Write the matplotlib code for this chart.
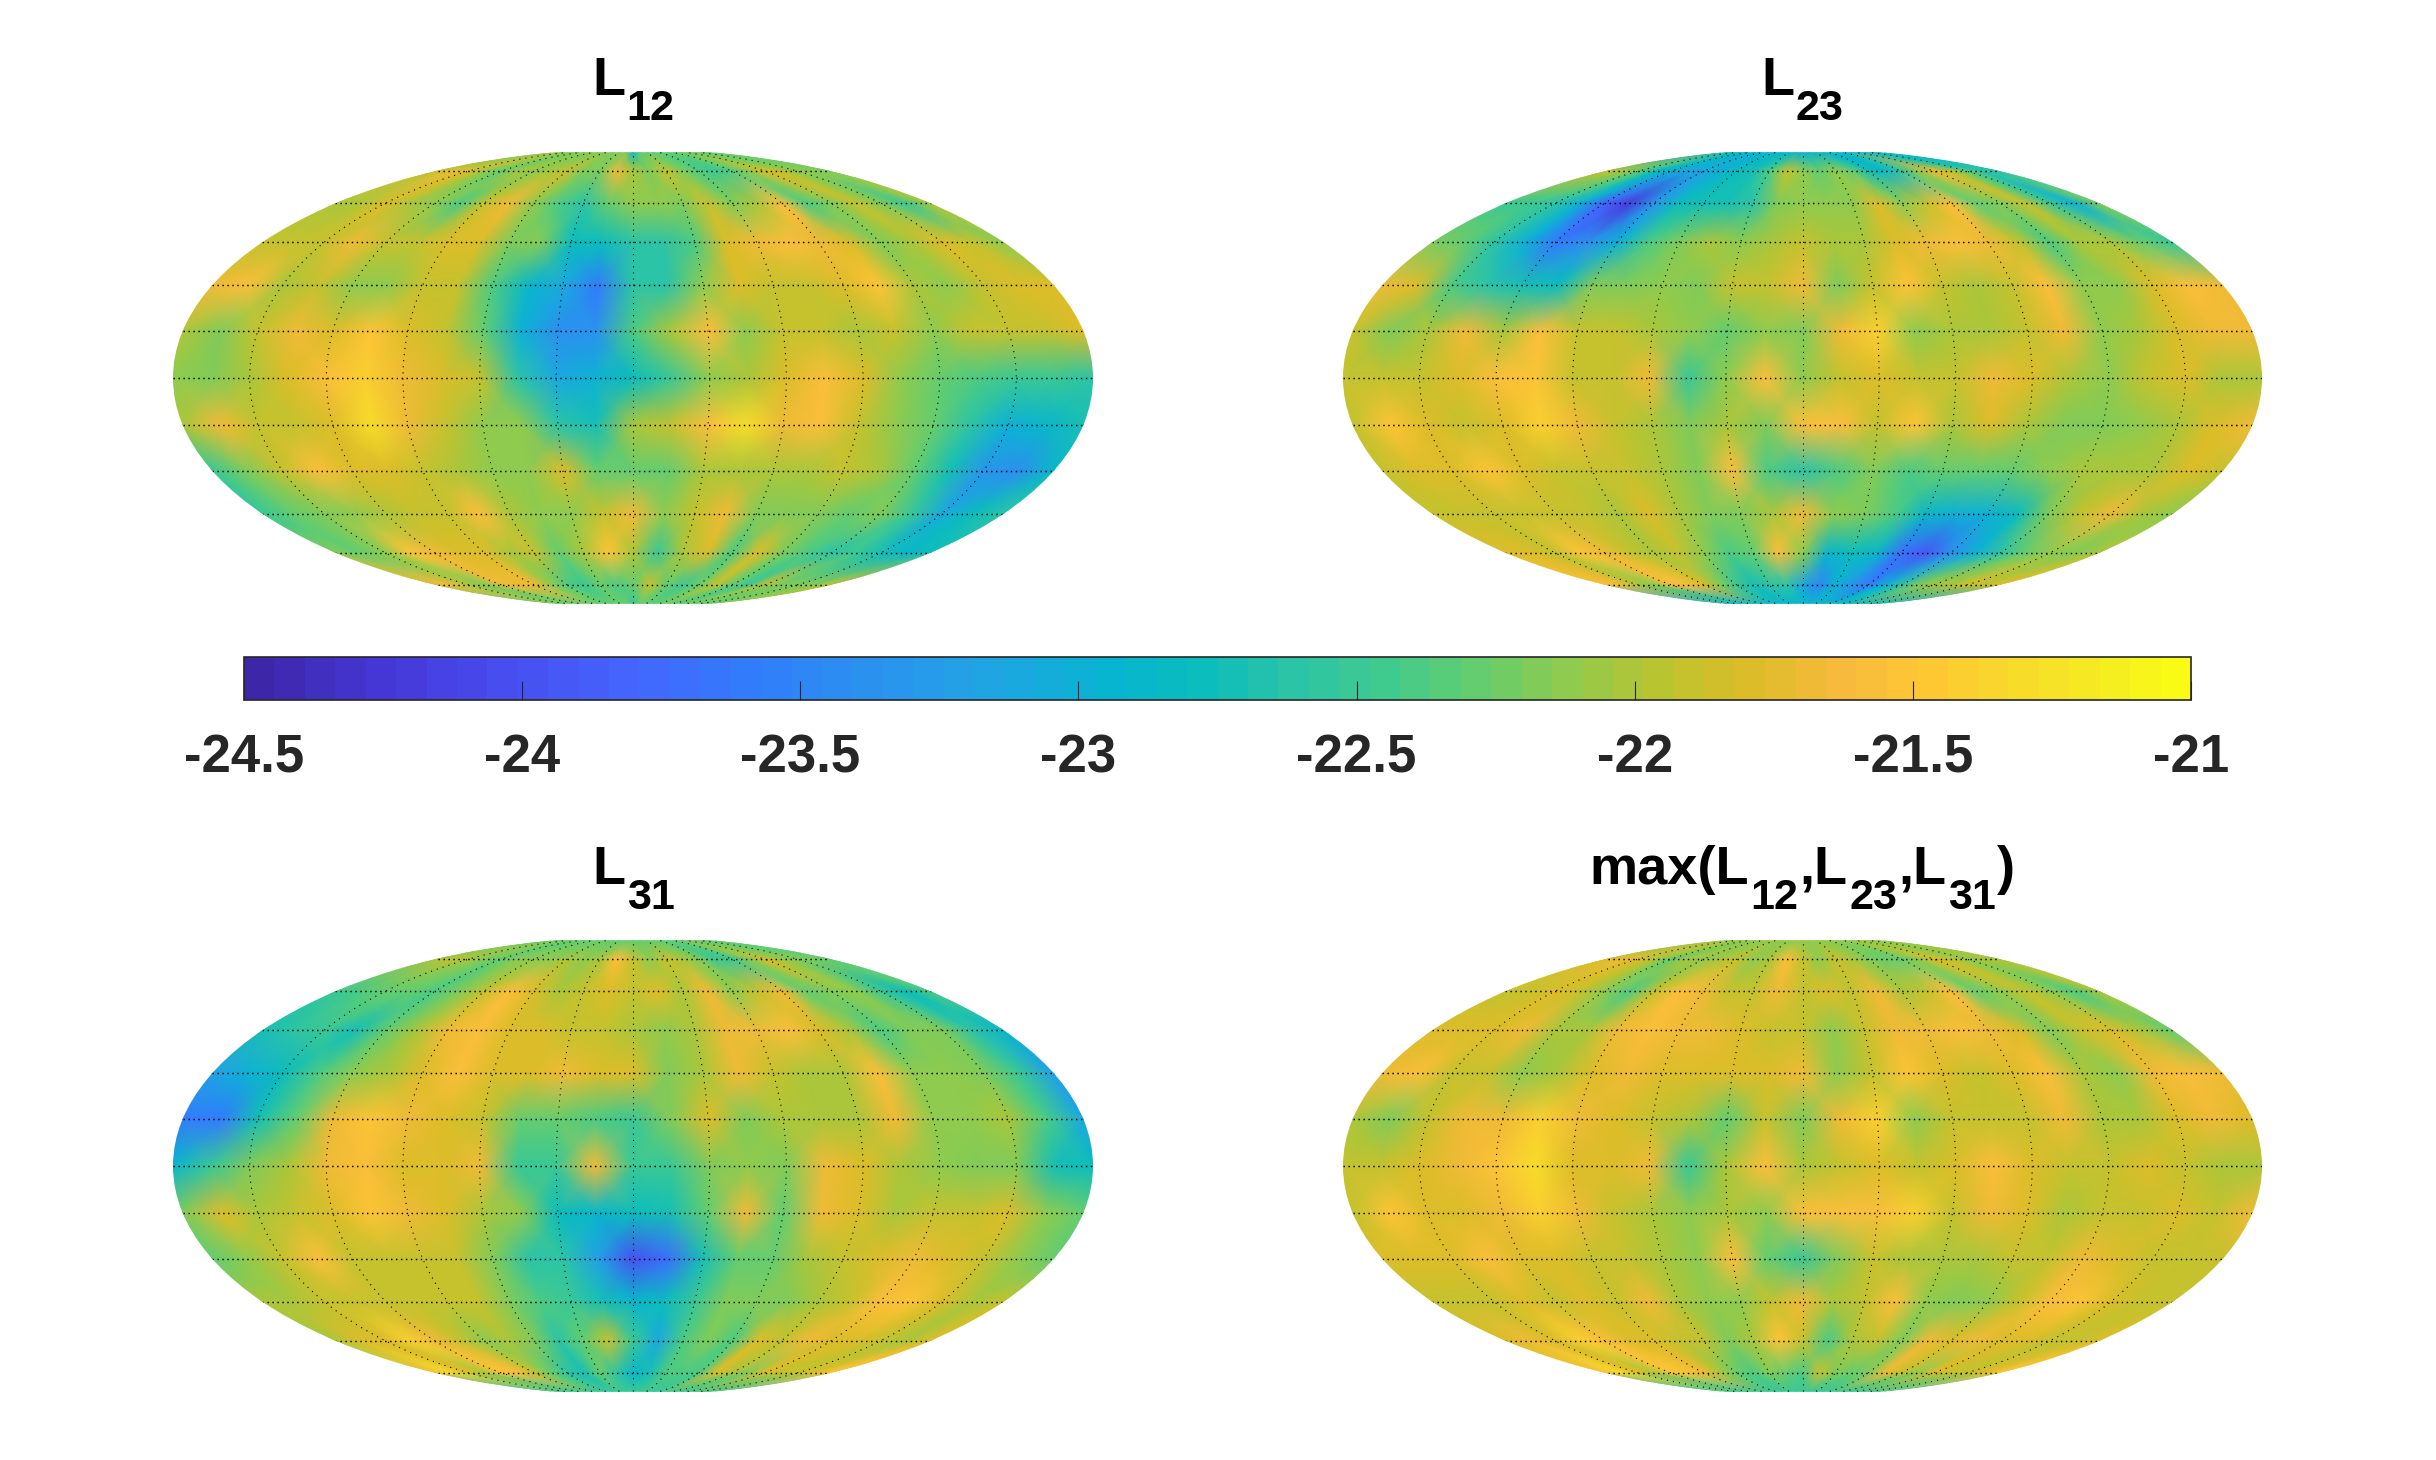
import numpy as np
import matplotlib
matplotlib.use('Agg')
import matplotlib.pyplot as plt
from matplotlib.cm import ScalarMappable
from matplotlib.colors import LinearSegmentedColormap, Normalize

W, H = 2436, 1460

plt.rcParams['font.family'] = ['Liberation Sans', 'DejaVu Sans']

# the map data stops just short of the poles, which gives the flat top and bottom
lats = [86, 75, 60, 45, 30, 15, 0, -15, -30, -45, -60, -75, -86]
lons = [-180, -165, -150, -135, -120, -105, -90, -75, -60, -45, -30, -15, 0,
        15, 30, 45, 60, 75, 90, 105, 120, 135, 150, 165, 180]

cbar_ticks = [-24.5, -24, -23.5, -23, -22.5, -22, -21.5, -21]
cbar_labels = ['-24.5', '-24', '-23.5', '-23', '-22.5', '-22', '-21.5', '-21']

L12 = [
    [-22.2]*12 + [-22.8] + [-22.3]*12,
    [-21.9,-21.7,-21.8,-22.1,-22.3,-22.0,-22.1,-22.0,-21.9,-22.2,-22.2,-21.7,-22.0,-22.2,-21.9,-22.2,-22.4,-22.5,-22.4,-22.1,-21.8,-21.9,-22.1,-22.1,-22.2],
    [-22.0,-22.0,-21.8,-22.0,-22.1,-22.4,-21.9,-21.7,-22.1,-22.4,-22.6,-22.3,-22.1,-22.1,-22.2,-21.9,-22.2,-22.0,-21.6,-22.4,-22.2,-21.9,-22.2,-22.5,-22.0],
    [-21.9,-21.9,-21.9,-21.7,-21.9,-21.9,-21.8,-21.8,-22.2,-22.2,-22.8,-22.8,-22.6,-22.6,-22.4,-21.8,-21.7,-21.6,-21.7,-21.8,-22.2,-22.0,-21.8,-21.9,-22.1],
    [-21.7,-21.6,-22.0,-21.9,-22.1,-22.1,-21.9,-21.9,-22.4,-22.9,-23.1,-23.6,-22.6,-22.6,-22.1,-21.8,-21.9,-21.9,-21.8,-21.5,-22.0,-22.1,-21.9,-21.8,-21.8],
    [-22.0,-22.2,-21.9,-21.7,-21.8,-21.5,-21.8,-21.9,-22.3,-23.0,-23.4,-23.4,-22.4,-22.0,-21.6,-22.1,-21.9,-21.9,-22.0,-21.9,-22.1,-21.9,-21.9,-21.9,-21.8],
    [-22.1,-22.2,-22.0,-21.8,-21.55,-21.4,-21.7,-21.8,-21.9,-22.6,-23.1,-23.0,-22.8,-22.5,-22.1,-22.0,-21.8,-21.6,-21.8,-22.1,-22.3,-22.4,-22.5,-22.5,-22.6],
    [-22.0,-21.7,-21.9,-21.9,-21.8,-21.3,-21.7,-21.9,-22.1,-22.1,-22.6,-22.7,-22.0,-21.9,-21.6,-21.3,-21.7,-21.6,-21.9,-22.1,-22.3,-22.6,-23.0,-22.9,-22.7],
    [-22.5,-22.2,-21.9,-21.6,-21.8,-21.8,-21.9,-22.0,-22.1,-22.1,-21.8,-22.3,-22.3,-22.3,-22.0,-22.0,-22.0,-22.0,-21.9,-22.0,-22.3,-22.7,-23.3,-23.4,-22.9],
    [-22.5,-22.3,-22.2,-22.1,-22.0,-21.9,-21.9,-21.6,-22.0,-22.1,-22.1,-21.9,-21.7,-22.1,-21.9,-21.7,-22.2,-22.2,-22.2,-22.3,-22.2,-22.5,-23.1,-22.8,-22.6],
    [-22.2,-22.3,-22.1,-21.5,-21.7,-21.8,-21.8,-22.0,-21.9,-22.3,-22.0,-21.5,-22.0,-22.5,-22.0,-21.8,-22.4,-21.8,-22.2,-22.4,-22.6,-22.5,-22.7,-22.9,-22.8],
    [-21.7,-21.7,-22.0,-22.2,-21.7,-21.7,-21.7,-22.1,-22.4,-22.5,-22.3,-22.4,-22.3,-21.9,-22.3,-22.5,-22.3,-21.9,-22.3,-22.5,-21.9,-22.2,-22.2,-22.1,-21.9],
    [-22.3]*12 + [-22.5] + [-22.3]*12,
]

L23 = [
    [-22.9]*12 + [-23.0] + [-22.9]*12,
    [-21.9,-22.0,-22.3,-22.8,-23.0,-23.1,-23.1,-23.0,-22.8,-22.7,-22.4,-21.9,-22.1,-22.3,-22.1,-22.3,-22.7,-22.9,-22.6,-22.1,-21.7,-21.9,-22.3,-22.6,-22.6],
    [-22.5,-22.5,-22.6,-23.0,-23.8,-24.2,-23.3,-22.8,-22.7,-22.7,-22.6,-22.2,-22.1,-22.1,-22.1,-21.8,-22.1,-21.9,-21.6,-22.3,-22.2,-21.9,-22.5,-23.0,-22.2],
    [-22.2,-22.3,-22.6,-23.0,-23.6,-23.4,-23.0,-22.4,-22.2,-22.0,-22.1,-22.0,-21.9,-22.0,-22.0,-21.8,-21.7,-21.6,-21.7,-21.9,-22.4,-22.0,-22.0,-22.3,-22.5],
    [-21.7,-21.8,-22.4,-22.6,-22.7,-22.8,-22.2,-22.2,-22.1,-22.2,-21.9,-21.9,-21.7,-22.2,-21.9,-21.5,-21.9,-22.0,-21.9,-21.6,-22.1,-22.1,-21.8,-21.6,-21.7],
    [-21.9,-22.2,-22.0,-21.7,-22.0,-21.6,-21.9,-21.9,-22.0,-22.1,-22.3,-22.1,-22.2,-21.7,-21.4,-22.1,-22.0,-22.0,-21.9,-21.7,-22.1,-22.0,-21.8,-21.7,-21.7],
    [-21.9,-21.9,-21.9,-21.8,-21.6,-21.5,-21.9,-21.9,-21.7,-22.5,-22.1,-21.6,-22.1,-21.9,-21.8,-21.9,-21.9,-21.7,-21.8,-22.0,-22.1,-21.9,-21.8,-22.0,-22.0],
    [-21.9,-21.5,-21.8,-21.9,-21.8,-21.4,-21.7,-21.9,-22.0,-22.2,-22.0,-22.2,-21.6,-21.6,-21.9,-21.5,-22.0,-21.8,-22.0,-22.2,-22.2,-22.1,-22.0,-21.8,-21.7],
    [-21.9,-21.8,-21.8,-21.5,-21.8,-21.9,-21.9,-21.9,-22.0,-22.2,-21.6,-22.4,-22.6,-22.4,-22.2,-22.4,-22.3,-22.3,-22.3,-22.1,-22.0,-22.0,-22.0,-21.8,-21.9],
    [-21.9,-21.9,-21.9,-21.9,-21.9,-21.9,-22.0,-21.8,-22.0,-22.2,-22.2,-22.0,-21.7,-22.1,-22.2,-22.4,-22.9,-23.0,-23.0,-22.8,-22.2,-21.9,-21.7,-22.0,-22.1],
    [-21.8,-21.8,-21.9,-21.5,-21.7,-21.9,-22.0,-21.9,-22.1,-22.4,-22.3,-21.6,-22.1,-22.9,-22.8,-22.9,-23.7,-23.9,-23.4,-23.0,-22.6,-22.3,-22.1,-22.2,-22.0],
    [-21.6,-21.7,-22.0,-22.1,-21.6,-21.6,-21.8,-22.2,-22.5,-22.7,-22.6,-22.6,-23.1,-23.5,-23.0,-23.3,-23.6,-23.0,-22.6,-22.2,-22.0,-22.0,-21.8,-21.9,-21.8],
    [-22.9]*25,
]

L31 = [
    [-22.3]*25,
    [-22.0,-21.9,-22.0,-22.2,-22.3,-22.1,-22.1,-22.1,-22.0,-22.1,-22.0,-21.6,-21.9,-22.1,-21.9,-22.0,-22.2,-22.5,-22.5,-22.2,-21.8,-22.0,-22.2,-22.2,-22.3],
    [-22.5,-22.4,-22.3,-22.3,-22.4,-22.2,-21.9,-21.6,-21.8,-22.0,-21.9,-21.8,-21.9,-21.8,-22.0,-21.7,-22.1,-21.9,-21.7,-22.3,-22.2,-22.1,-22.5,-22.8,-22.4],
    [-22.7,-22.6,-22.5,-22.7,-22.3,-22.0,-21.7,-21.6,-21.8,-21.8,-21.9,-21.9,-22.0,-22.1,-22.0,-21.7,-21.7,-21.6,-21.8,-22.0,-22.4,-22.2,-22.2,-22.6,-22.9],
    [-23.2,-23.0,-22.8,-22.4,-22.1,-22.0,-21.8,-21.6,-21.8,-21.8,-21.7,-21.8,-21.8,-22.2,-22.0,-21.7,-21.9,-22.0,-22.0,-21.6,-22.1,-22.1,-22.2,-22.5,-23.2],
    [-23.6,-23.6,-22.7,-22.3,-21.7,-21.5,-21.7,-21.8,-21.9,-22.3,-22.3,-22.4,-22.5,-22.2,-21.8,-22.2,-22.0,-22.0,-22.0,-21.7,-22.1,-22.1,-22.0,-22.4,-23.1],
    [-22.9,-22.5,-22.2,-22.0,-21.7,-21.6,-21.8,-21.8,-21.7,-22.5,-22.5,-21.7,-22.5,-22.5,-22.2,-22.1,-22.2,-21.7,-21.8,-22.0,-22.1,-22.2,-22.2,-22.7,-22.8],
    [-22.2,-21.8,-22.0,-21.9,-21.8,-21.5,-21.7,-21.8,-22.0,-22.1,-22.8,-22.9,-22.8,-22.7,-22.3,-21.7,-22.3,-21.7,-21.8,-22.0,-21.9,-21.9,-21.8,-22.1,-22.3],
    [-22.3,-22.1,-21.9,-21.6,-21.9,-21.9,-21.9,-21.9,-22.2,-22.6,-22.6,-23.2,-24.0,-23.7,-22.7,-22.3,-22.3,-22.0,-21.9,-21.8,-21.7,-21.8,-21.9,-22.1,-22.3],
    [-22.0,-22.0,-21.9,-21.9,-21.9,-21.9,-21.9,-21.9,-22.2,-22.4,-22.5,-22.7,-22.9,-22.8,-22.5,-22.2,-22.2,-22.2,-22.0,-21.9,-21.6,-21.5,-21.8,-22.0,-21.9],
    [-22.0,-21.8,-21.8,-21.4,-21.7,-21.9,-22.1,-22.0,-22.2,-22.6,-22.3,-21.9,-22.5,-23.1,-22.4,-22.2,-22.4,-21.8,-21.9,-21.7,-21.8,-21.8,-21.9,-22.0,-21.8],
    [-21.5,-21.3,-21.8,-22.0,-21.5,-21.6,-21.9,-22.3,-22.6,-22.7,-22.3,-22.6,-22.9,-22.7,-22.4,-22.4,-22.4,-21.8,-22.0,-22.2,-21.8,-21.9,-21.9,-21.8,-21.5],
    [-22.5]*25,
]

L_max = [
    [-22.1]*25,
    [-21.8,-21.7,-21.8,-22.0,-22.3,-22.0,-22.1,-22.0,-21.9,-22.1,-22.0,-21.6,-21.9,-22.1,-21.9,-22.0,-22.2,-22.3,-22.3,-22.1,-21.8,-21.9,-22.1,-22.0,-22.0],
    [-21.9,-21.9,-21.8,-21.9,-22.1,-22.4,-21.9,-21.6,-21.7,-21.9,-21.9,-21.7,-21.9,-21.8,-21.9,-21.7,-22.0,-21.9,-21.6,-22.3,-22.1,-21.9,-22.1,-22.4,-22.0],
    [-21.8,-21.8,-21.8,-21.7,-22.0,-22.0,-21.7,-21.6,-21.7,-21.7,-21.8,-21.9,-21.9,-22.1,-21.9,-21.7,-21.7,-21.6,-21.7,-21.8,-22.2,-21.9,-21.8,-22.0,-22.3],
    [-21.7,-21.6,-21.9,-21.9,-22.1,-22.0,-21.8,-21.7,-21.8,-21.8,-21.8,-21.8,-21.7,-22.1,-21.9,-21.5,-21.8,-21.9,-21.8,-21.6,-22.0,-22.1,-21.7,-21.6,-21.7],
    [-22.0,-22.2,-21.9,-21.7,-21.7,-21.4,-21.7,-21.8,-21.9,-22.0,-22.3,-21.9,-22.2,-21.7,-21.4,-22.1,-21.9,-21.9,-21.9,-21.7,-22.0,-22.0,-21.8,-21.7,-21.8],
    [-21.9,-21.9,-21.8,-21.7,-21.5,-21.3,-21.8,-21.8,-21.7,-22.5,-22.0,-21.6,-22.0,-21.9,-21.8,-21.9,-21.8,-21.6,-21.8,-21.9,-21.9,-21.8,-21.9,-22.0,-22.0],
    [-21.9,-21.5,-21.8,-21.8,-21.7,-21.4,-21.7,-21.9,-22.0,-22.1,-22.0,-22.1,-21.6,-21.6,-21.6,-21.4,-21.9,-21.7,-21.8,-22.0,-21.9,-21.9,-21.8,-21.9,-21.7],
    [-21.8,-21.8,-21.8,-21.6,-21.8,-21.8,-21.9,-21.9,-22.0,-22.1,-21.6,-22.3,-22.5,-22.2,-21.9,-22.0,-22.0,-22.0,-21.9,-21.9,-21.7,-21.8,-21.9,-21.9,-21.9],
    [-21.9,-21.9,-21.9,-21.8,-21.9,-21.8,-21.9,-21.7,-22.0,-22.1,-22.1,-21.9,-21.7,-22.0,-21.9,-21.6,-22.1,-22.2,-22.1,-21.9,-21.6,-21.5,-21.8,-21.9,-21.9],
    [-21.8,-21.7,-21.8,-21.4,-21.6,-21.8,-21.8,-21.9,-21.9,-22.2,-22.0,-21.5,-21.9,-22.4,-22.0,-21.9,-22.2,-21.7,-21.8,-21.7,-21.8,-21.8,-21.9,-21.9,-21.8],
    [-21.5,-21.3,-21.8,-22.0,-21.5,-21.5,-21.7,-22.0,-22.3,-22.4,-22.2,-22.3,-22.4,-21.9,-22.2,-22.3,-22.2,-21.7,-21.9,-22.1,-21.8,-21.9,-21.9,-21.8,-21.5],
    [-22.5]*25,
]

# 64-level parula, every few entries
parula_index = [0, 4, 8, 12, 16, 20, 24, 28, 31, 34, 37, 40, 43, 46, 49, 52, 55, 58, 61, 63]
parula_rgb = [
    (0.2422, 0.1504, 0.6603), (0.2706, 0.2147, 0.8364), (0.2813, 0.3006, 0.9414),
    (0.2699, 0.3892, 0.9906), (0.1963, 0.4847, 0.9892), (0.1687, 0.5703, 0.9359),
    (0.1248, 0.6459, 0.8883), (0.0297, 0.7082, 0.8163), (0.0433, 0.7411, 0.7394),
    (0.1717, 0.7670, 0.6554), (0.2470, 0.7918, 0.5567), (0.3909, 0.8029, 0.4354),
    (0.5616, 0.7942, 0.3045), (0.7242, 0.7698, 0.1910), (0.8634, 0.7406, 0.1596),
    (0.9728, 0.7298, 0.2394), (0.9952, 0.7861, 0.1999), (0.9676, 0.8639, 0.1643),
    (0.9628, 0.9373, 0.1265), (0.9769, 0.9839, 0.0805),
]
parula = LinearSegmentedColormap.from_list(
    'parula', [(i/63, c) for i, c in zip(parula_index, parula_rgb)], N=64)
norm = Normalize(-24.5, -21)


def px_axes(fig, x0, y0, x1, y1, **kw):
    return fig.add_axes([x0/W, 1-y1/H, (x1-x0)/W, (y1-y0)/H], **kw)


def draw_map(fig, box, values):
    ax = px_axes(fig, *box, projection='mollweide')
    ax.set_aspect('auto')
    z = np.array(values, dtype=float)
    # extra columns past the seam so the mesh fills the ellipse edge
    lon = np.deg2rad([-200] + lons + [200])
    lat = np.deg2rad(lats)
    z = np.column_stack([z[:, 0], z, z[:, -1]])
    ax.pcolormesh(lon, lat, z, shading='gouraud', cmap=parula, norm=norm)
    ax.set_longitude_grid(30)
    ax.set_latitude_grid(15)
    ax.set_longitude_grid_ends(86)
    ax.xaxis.grid(True, color='k', lw=0.8, ls=(0, (1, 4.5)))
    ax.yaxis.grid(True, color='k', lw=1.05, ls=(0, (1, 2.4)))
    ax.set_xticklabels([])
    ax.set_yticklabels([])
    ax.tick_params(length=0)
    ax.spines['geo'].set_visible(False)
    return ax


def draw_title(fig, cx, base, parts):
    # parts: (string, is_subscript); laid out one after the other around cx
    r = fig.canvas.get_renderer()
    items = []
    total = 0
    for s, sub in parts:
        t = fig.text(0, 0, s, fontsize=31 if sub else 39, fontweight='bold', color='k',
                     ha='left', va='baseline')
        w = t.get_window_extent(r).width + 1.5
        items.append((t, sub, w))
        total += w
    x = cx - total/2
    for t, sub, w in items:
        t.set_position((x/W, 1-(base + (25 if sub else 0))/H))
        x += w


fig = plt.figure(figsize=(W/100, H/100), dpi=100)

draw_map(fig, (173, 149, 1093, 607), L12)
draw_map(fig, (1343, 149, 2262, 607), L23)
draw_map(fig, (173, 937, 1093, 1395), L31)
draw_map(fig, (1343, 937, 2262, 1395), L_max)

draw_title(fig, 634, 95, [('L', False), ('12', True)])
draw_title(fig, 1803, 95, [('L', False), ('23', True)])
draw_title(fig, 634, 884, [('L', False), ('31', True)])
draw_title(fig, 1803, 884, [('max(L', False), ('12', True), (',L', False), ('23', True),
                            (',L', False), ('31', True), (')', False)])

cax = px_axes(fig, 244, 657, 2191, 700)
cb = fig.colorbar(ScalarMappable(norm=norm, cmap=parula), cax=cax, orientation='horizontal')
cb.set_ticks(cbar_ticks)
cb.set_ticklabels(cbar_labels)
cb.ax.tick_params(axis='x', direction='in', length=14, width=0.8, color='#262626',
                  labelsize=38, labelcolor='#262626', pad=24)
for t in cb.ax.get_xticklabels():
    t.set_fontweight('bold')
cb.minorticks_off()
cb.outline.set_edgecolor('#262626')
cb.outline.set_linewidth(1.2)

fig.savefig('out.png', dpi=100)
